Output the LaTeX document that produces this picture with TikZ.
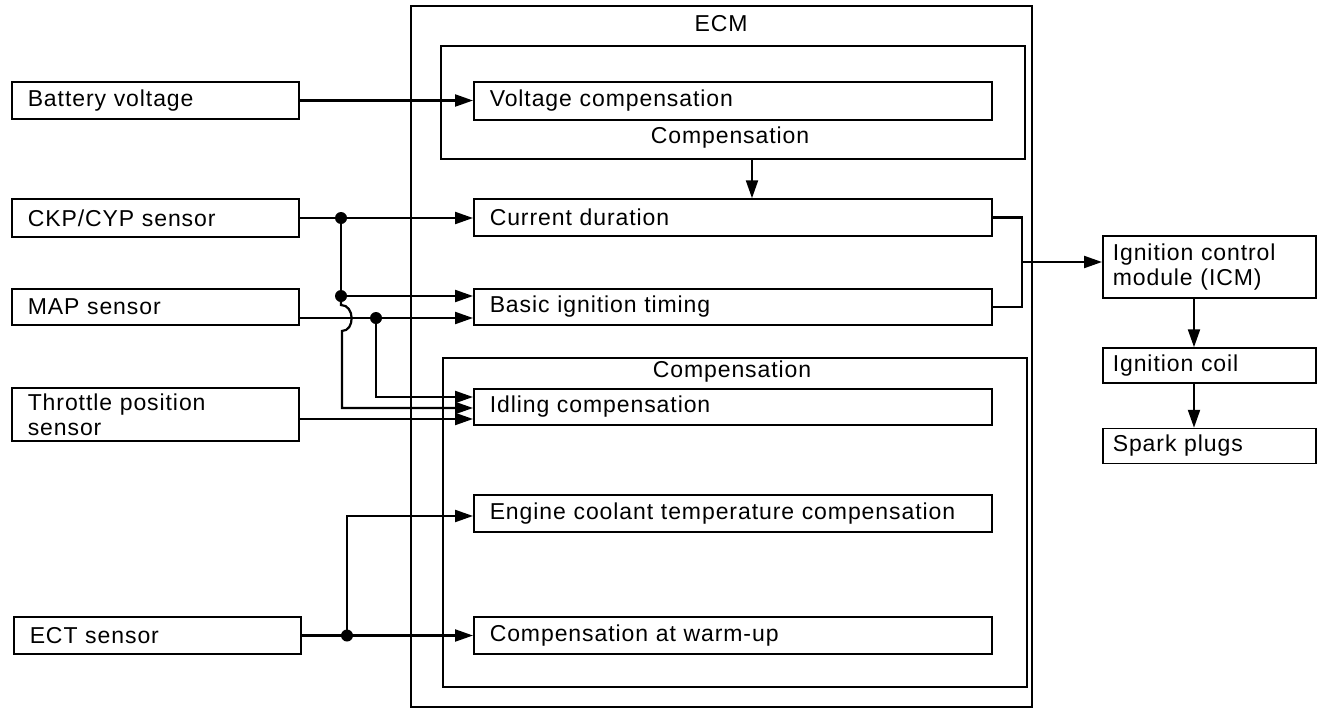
\documentclass[tikz,border=0pt]{standalone}
\usepackage{fontspec}
\setmainfont{Liberation Sans}[LetterSpace=4]
\usetikzlibrary{arrows.meta}
\begin{document}
\begin{tikzpicture}[x=1pt,y=-1pt,
  font=\fontsize{23}{25}\selectfont,
  bx/.style={draw, line width=1.5pt, inner xsep=16pt, inner ysep=0pt, align=left, anchor=west},
  lbox/.style={bx, text width=255pt},
  fbox/.style={bx, text width=486pt},
  rbox/.style={bx, inner xsep=10pt, text width=193pt},
  frame/.style={draw, line width=1.5pt, anchor=north west, inner sep=0pt},
  wire/.style={line width=2.2pt},
  arr/.style={wire, -{Triangle[length=18pt,width=12pt]}},
  jdot/.style={circle, fill, inner sep=0pt, minimum size=12pt}]
\useasboundingbox (0,0) rectangle (1322,720);

% frames
\node[frame, minimum width=621pt, minimum height=701pt] (ecm) at (410,5) {};
\node[frame, minimum width=584pt, minimum height=113pt] (inA) at (440,45) {};
\node[frame, minimum width=584pt, minimum height=329pt] (inB) at (442,357) {};
\node (ecmlbl) at (721,24) {ECM};
\node (compA) at (730,138) {Compensation};
\node (compB) at (732,372) {Compensation};

% left inputs
\node[lbox, minimum height=37pt] (bat) at (11,100.5) {Battery voltage};
\node[lbox, minimum height=38pt] (ckp) at (11,218) {CKP/CYP sensor};
\node[lbox, minimum height=36pt] (map) at (11,307) {MAP sensor};
\node[lbox, minimum height=53pt] (tps) at (11,414.5) {Throttle position\\sensor};
\node[lbox, minimum height=37pt] (ect) at (13,635.5) {ECT sensor};

% ECM functions
\node[fbox, minimum height=38pt] (vc) at (473,101) {Voltage compensation};
\node[fbox, minimum height=37pt] (cd) at (473,217.5) {Current duration};
\node[fbox, minimum height=36pt] (bit) at (473,307) {Basic ignition timing};
\node[fbox, minimum height=36pt] (idl) at (473,407) {Idling compensation};
\node[fbox, minimum height=37pt] (ecc) at (473,513.5) {Engine coolant temperature compensation};
\node[fbox, minimum height=37pt] (wu) at (473,635.5) {Compensation at warm-up};

% outputs
\node[rbox, minimum height=62pt] (icm) at (1102,267) {Ignition control\\module (ICM)};
\node[rbox, minimum height=35pt] (coil) at (1102,365.5) {Ignition coil};
\node[rbox, minimum height=35pt] (spark) at (1102,446) {Spark plugs};

% coordinates
\coordinate (cA) at (752,0);
\coordinate (j1) at (341,218);
\coordinate (j2) at (341,296);
\coordinate (j3) at (376,318);
\coordinate (j4) at (347,635.5);
\coordinate (br) at (1022,262);
\coordinate (rx) at (1194,0);

% connectors
\draw[arr] (bat.east) -- (bat.east -| vc.west);
\draw[arr] (inA.south -| cA) -- (cd.north -| cA);
\draw[wire] (ckp.east) -- (j1);
\draw[arr] (j1) -- (j1 -| cd.west);
\draw[wire] (j1) -- (j2);
\draw[arr] (j2) -- (j2 -| bit.west);
\draw[arr] (j3 -| map.east) -- (j3 -| bit.west);
\draw[arr] (j3) -- (376,397) -- (idl.west |- 0,397);
\draw[arr] (j2) -- (341,305) .. controls (355,305) and (355,331) .. (342,331) -- (342,408) -- (idl.west |- 0,408);
\draw[arr] (tps.east |- 0,419) -- (idl.west |- 0,419);
\draw[arr] (ect.east) -- (ect.east -| wu.west);
\draw[arr] (j4) -- (347,516) -- (ecc.west |- 0,516);
\draw[wire] (cd.east) -- (cd.east -| br) -- (bit.east -| br) -- (bit.east);
\draw[arr] (br) -- (br -| icm.west);
\draw[arr] (icm.south -| rx) -- (coil.north -| rx);
\draw[arr] (coil.south -| rx) -- (spark.north -| rx);

% junction dots
\node[jdot] (d1) at (j1) {};
\node[jdot] (d2) at (j2) {};
\node[jdot] (d3) at (j3) {};
\node[jdot] (d4) at (j4) {};
\end{tikzpicture}
\end{document}
